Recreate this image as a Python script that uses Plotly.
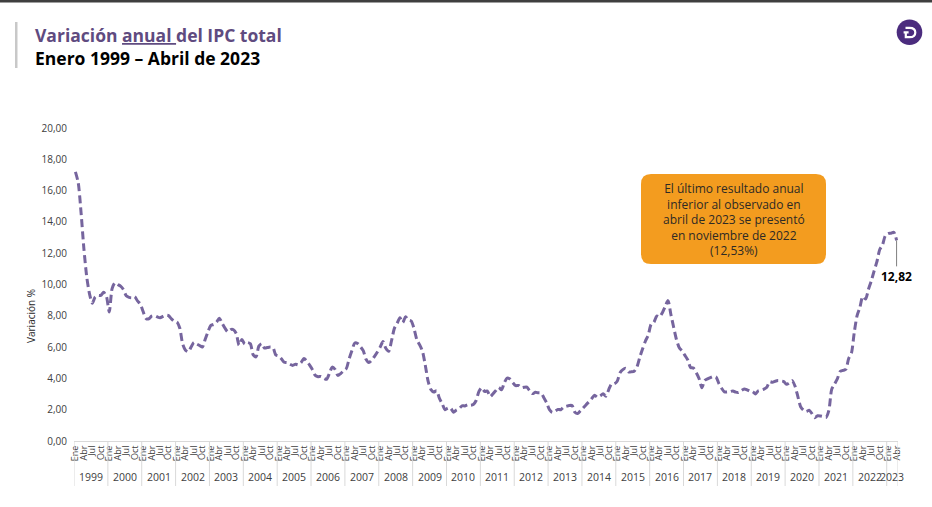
import plotly.graph_objects as go

# ---------------- data ----------------
years = list(range(1999, 2024))
month_names = ["Ene", "Feb", "Mar", "Abr", "May", "Jun", "Jul", "Ago", "Sep", "Oct", "Nov", "Dic"]
tick_months = ["Ene", "Abr", "Jul", "Oct"]

ipc_1999 = [17.20, 16.50, 14.60, 12.30, 10.50, 9.40, 8.80, 9.20, 9.30, 9.30, 9.50, 9.23]
ipc_2000 = [8.25, 9.74, 10.11, 10.00, 9.89, 9.68, 9.28, 9.18, 9.16, 9.22, 8.95, 8.75]
ipc_2001 = [8.27, 7.83, 7.81, 7.98, 8.01, 7.93, 7.87, 7.96, 8.04, 8.01, 7.81, 7.65]
ipc_2002 = [7.60, 7.20, 6.20, 5.80, 5.70, 6.00, 6.30, 6.20, 6.10, 6.00, 6.50, 6.99]
ipc_2003 = [7.39, 7.45, 7.60, 7.85, 7.52, 7.21, 6.98, 7.12, 7.11, 6.86, 6.12, 6.49]
ipc_2004 = [6.19, 6.29, 6.21, 5.50, 5.37, 6.06, 6.22, 5.94, 5.97, 6.00, 5.97, 5.50]
ipc_2005 = [5.43, 5.25, 5.03, 5.01, 4.91, 4.83, 4.91, 4.87, 5.02, 5.27, 5.10, 4.85]
ipc_2006 = [4.56, 4.19, 4.11, 4.12, 4.01, 3.94, 4.32, 4.72, 4.58, 4.19, 4.31, 4.48]
ipc_2007 = [4.63, 5.25, 5.78, 6.26, 6.23, 6.03, 5.77, 5.22, 5.01, 5.16, 5.41, 5.69]
ipc_2008 = [6.00, 6.35, 5.93, 5.73, 6.39, 7.18, 7.52, 7.87, 7.57, 7.94, 7.73, 7.67]
ipc_2009 = [7.18, 6.47, 6.14, 5.73, 4.83, 3.81, 3.28, 3.13, 3.21, 2.72, 2.37, 2.00]
ipc_2010 = [2.10, 2.09, 1.84, 1.98, 2.07, 2.25, 2.24, 2.31, 2.28, 2.33, 2.59, 3.17]
ipc_2011 = [3.40, 3.17, 3.19, 2.84, 3.02, 3.23, 3.42, 3.27, 3.73, 4.02, 3.96, 3.73]
ipc_2012 = [3.54, 3.55, 3.40, 3.43, 3.44, 3.20, 3.03, 3.11, 3.08, 3.06, 2.77, 2.44]
ipc_2013 = [2.00, 1.83, 1.91, 2.02, 2.00, 2.16, 2.22, 2.27, 2.27, 1.84, 1.76, 1.94]
ipc_2014 = [2.13, 2.32, 2.51, 2.72, 2.93, 2.79, 2.89, 3.02, 2.86, 3.29, 3.65, 3.66]
ipc_2015 = [3.82, 4.36, 4.56, 4.64, 4.41, 4.42, 4.46, 4.74, 5.35, 5.89, 6.39, 6.77]
ipc_2016 = [7.45, 7.59, 7.98, 7.93, 8.20, 8.60, 8.97, 8.10, 7.27, 6.48, 5.96, 5.75]
ipc_2017 = [5.47, 5.18, 4.69, 4.66, 4.37, 3.99, 3.40, 3.87, 3.97, 4.05, 4.12, 4.09]
ipc_2018 = [3.68, 3.37, 3.14, 3.13, 3.16, 3.20, 3.12, 3.10, 3.23, 3.33, 3.27, 3.18]
ipc_2019 = [3.15, 3.01, 3.21, 3.25, 3.31, 3.43, 3.79, 3.75, 3.82, 3.86, 3.84, 3.80]
ipc_2020 = [3.62, 3.72, 3.86, 3.51, 2.85, 2.19, 1.97, 1.88, 1.97, 1.75, 1.49, 1.61]
ipc_2021 = [1.60, 1.56, 1.51, 1.95, 3.30, 3.63, 3.97, 4.44, 4.51, 4.58, 5.26, 5.62]
ipc_2022 = [6.94, 8.01, 8.53, 9.23, 9.07, 9.67, 10.21, 10.84, 11.44, 12.22, 12.53, 13.12]
ipc_2023 = [13.25, 13.28, 13.34, 12.82]

y_ticks = [0, 2, 4, 6, 8, 10, 12, 14, 16, 18, 20]

title_1a = "Variación "
title_1b = "anual "
title_1c = "del IPC total"
title_2 = "Enero 1999 – Abril de 2023"
y_title = "Variación %"
note_text = ("El último resultado anual<br>inferior al observado en<br>abril de 2023 se presentó"
             "<br>en noviembre de 2022<br>(12,53%)")
last_label = "12,82"

series_by_year = [ipc_1999, ipc_2000, ipc_2001, ipc_2002, ipc_2003, ipc_2004, ipc_2005,
                  ipc_2006, ipc_2007, ipc_2008, ipc_2009, ipc_2010, ipc_2011, ipc_2012,
                  ipc_2013, ipc_2014, ipc_2015, ipc_2016, ipc_2017, ipc_2018, ipc_2019,
                  ipc_2020, ipc_2021, ipc_2022, ipc_2023]

values = [v for yr in series_by_year for v in yr]
x_idx = list(range(len(values)))
month_lbl = [month_names[i % 12] for i in x_idx]

tickvals = [i for i in x_idx if month_lbl[i] in tick_months]
ticktext = [month_lbl[i] for i in tickvals]

# ---------------- layout geometry ----------------
W, H = 932, 507
ML, MR, MT, MB = 74, 34, 128, 66
PW, PH = W - ML - MR, H - MT - MB


def px(x):
    return (x - ML) / PW


def py(y):
    return (H - MB - y) / PH


FONT = "Open Sans"
LINE_COLOR = "#76659E"

fig = go.Figure()
fig.add_trace(go.Scatter(
    x=x_idx, y=values, mode="lines",
    line=dict(color=LINE_COLOR, width=3, dash="8px,4px", shape="spline", smoothing=0.7),
    hoverinfo="skip", showlegend=False,
))

shapes = []
annotations = []

# year separators and labels
start = 0
for yr, vals in zip(years, series_by_year):
    n = len(vals)
    shapes.append(dict(type="line", xref="x", yref="paper", x0=start - 0.5, x1=start - 0.5,
                       y0=0, y1=py(486), line=dict(color="#D9D9D9", width=1)))
    annotations.append(dict(xref="x", yref="paper", x=start + (n - 1) / 2, y=py(477),
                            text=str(yr), showarrow=False, xanchor="center", yanchor="middle",
                            font=dict(family=FONT, size=10.5, color="#404040")))
    start += n
shapes.append(dict(type="line", xref="x", yref="paper", x0=start - 0.5, x1=start - 0.5,
                   y0=0, y1=py(486), line=dict(color="#D9D9D9", width=1)))

# top dark band
shapes.append(dict(type="rect", xref="paper", yref="paper", x0=px(0), x1=px(W), y0=py(0), y1=py(2.5),
                   fillcolor="#3F3F3F", line=dict(width=0), layer="above"))
# left grey bar beside the title
shapes.append(dict(type="rect", xref="paper", yref="paper", x0=px(15), x1=px(17.5), y0=py(22), y1=py(68),
                   fillcolor="#C8C8C8", line=dict(width=0)))

# logo circle
cx, cy, r = 909.5, 32.3, 12.8
shapes.append(dict(type="circle", xref="paper", yref="paper", x0=px(cx - r), x1=px(cx + r),
                   y0=py(cy + r), y1=py(cy - r), fillcolor="#4B2C7E", line=dict(width=0)))


def P(x, y):
    return f"{px(x):.6f},{py(y):.6f}"


d_path = (f"M {P(905.5, 27.8)} L {P(909.5, 27.8)} Q {P(915.3, 27.8)} {P(915.3, 32.5)} "
          f"Q {P(915.3, 37.2)} {P(909.5, 37.2)} L {P(905.8, 37.2)} L {P(905.8, 33.2)} "
          f"M {P(903.6, 32.4)} L {P(908.6, 32.4)}")
shapes.append(dict(type="path", xref="paper", yref="paper", path=d_path,
                   line=dict(color="white", width=2.2)))

# orange rounded note box
bx0, bx1, by0, by1, rr = 641, 826, 174, 264, 10
box_path = (f"M {P(bx0 + rr, by0)} L {P(bx1 - rr, by0)} Q {P(bx1, by0)} {P(bx1, by0 + rr)} "
            f"L {P(bx1, by1 - rr)} Q {P(bx1, by1)} {P(bx1 - rr, by1)} L {P(bx0 + rr, by1)} "
            f"Q {P(bx0, by1)} {P(bx0, by1 - rr)} L {P(bx0, by0 + rr)} Q {P(bx0, by0)} {P(bx0 + rr, by0)} Z")
shapes.append(dict(type="path", xref="paper", yref="paper", path=box_path,
                   fillcolor="#F39C1F", line=dict(width=0)))

annotations.append(dict(xref="paper", yref="paper", x=px((bx0 + bx1) / 2), y=py(219.5),
                        text=note_text, showarrow=False, xanchor="center", yanchor="middle",
                        align="center", font=dict(family=FONT, size=12, color="#2E2A25")))

# titles (two lines in one block)
annotations.append(dict(xref="paper", yref="paper", x=px(33), y=py(46.5), xanchor="left", yanchor="middle",
                        align="left",
                        text=(f"<b><span style='color:#5F4B80'>{title_1a}<u>{title_1b}</u>{title_1c}</span>"
                              f"<br>{title_2}</b>"),
                        showarrow=False,
                        font=dict(family=FONT, size=17.5, color="#000000")))

# y-axis title
annotations.append(dict(xref="paper", yref="paper", x=px(31), y=py(316), textangle=-90,
                        text=y_title, showarrow=False, xanchor="center", yanchor="middle",
                        font=dict(family=FONT, size=10, color="#262626")))

# last value label
annotations.append(dict(xref="x", yref="y", x=x_idx[-1], y=values[-1], text=f"<b>{last_label}</b>",
                        showarrow=True, arrowhead=0, arrowwidth=1, arrowcolor="#7F7F7F",
                        ax=0, ay=36, standoff=0, font=dict(family=FONT, size=12, color="#000000")))

fig.update_layout(
    width=W, height=H,
    margin=dict(l=ML, r=MR, t=MT, b=MB, pad=0),
    paper_bgcolor="white", plot_bgcolor="white",
    separators=",.",
    font=dict(family=FONT, color="#404040"),
    shapes=shapes, annotations=annotations,
    xaxis=dict(range=[-0.5, len(values) - 0.5], tickmode="array", tickvals=tickvals, ticktext=ticktext,
               tickangle=-90, tickfont=dict(family=FONT, size=9, color="#404040"),
               showgrid=False, zeroline=False, showline=True, linecolor="#D9D9D9", linewidth=1,
               ticks="", fixedrange=True),
    yaxis=dict(range=[0, 20], tickmode="array", tickvals=y_ticks, tickformat=".2f",
               tickfont=dict(family=FONT, size=10, color="#404040"),
               showgrid=False, zeroline=False, showline=False, ticks="", ticklabelstandoff=6,
               fixedrange=True),
)

fig.write_html("out.html", config={"displayModeBar": False},
               post_script="document.body.style.margin='0';document.body.style.overflow='hidden';")
